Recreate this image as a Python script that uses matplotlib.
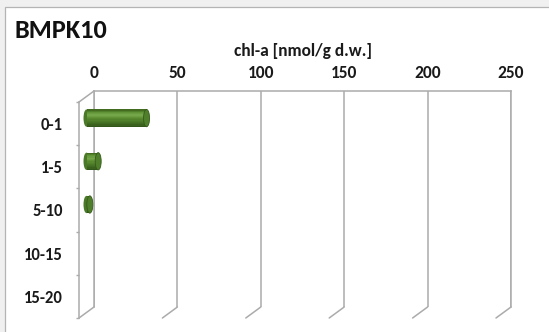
"""
Horizontal 3-D style cylinder bar chart of chl-a by depth layer (BMPK10).
"""

import numpy as np
import matplotlib
matplotlib.use("Agg")
import matplotlib.pyplot as plt
from matplotlib.patches import Ellipse, Rectangle, ConnectionPatch
from matplotlib.transforms import ScaledTranslation
from matplotlib.colors import to_rgb

# Data
layers = ["0-1", "1-5", "5-10", "10-15", "15-20"]
chla = [36, 7, 2, 0, 0]
x_ticks = [0, 50, 100, 150, 200, 250]

plt.rcParams["font.family"] = ["Carlito", "Lato", "DejaVu Sans"]
plt.rcParams["font.weight"] = "bold"
plt.rcParams["axes.labelweight"] = "bold"

W, H = 549, 332
fig = plt.figure(figsize=(W / 100, H / 100), dpi=100, facecolor="#f0f0f0")

# white chart area with thin border
fig.patches.append(Rectangle((5 / W, -0.1), 1.2, 1 - 7 / H + 0.1,
                             transform=fig.transFigure, facecolor="white",
                             edgecolor="#b4b4b4", lw=0.9, zorder=-5))

grid_col = "#ababab"

# back wall (value axis lives here)
ax = fig.add_axes([94 / W, 1 - 307 / H, 417 / W, 216 / H])
ax.set_facecolor("none")
ax.set_xlim(0, 250)
ax.set_ylim(len(layers) - 0.5, -0.5)
ax.xaxis.tick_top()
ax.xaxis.set_label_position("top")
ax.set_xticks(x_ticks)
ax.set_yticks([])
ax.tick_params(axis="x", length=0, pad=7.5, labelsize=12.5, colors="#1a1a1a")
ax.grid(axis="x", color=grid_col, lw=1.1)
ax.set_axisbelow(True)
for s in ["left", "right", "top"]:
    ax.spines[s].set_color(grid_col)
    ax.spines[s].set_linewidth(1.1)
ax.spines["bottom"].set_visible(False)
ax.set_xlabel("chl-a [nmol/g d.w.]", fontsize=12.5, labelpad=6,
              fontweight="bold", color="#1a1a1a")

# front plane (category axis)
front = fig.add_axes([79 / W, 1 - 318 / H, 417 / W, 216 / H])
front.set_facecolor("none")
front.set_xlim(0, 250)
front.set_ylim(len(layers) - 0.5, -0.5)
front.set_xticks([])
front.set_yticks(range(len(layers)))
front.set_yticklabels(layers)
front.set_yticks(np.arange(-0.5, len(layers)), minor=True)
front.tick_params(axis="y", which="major", length=0, pad=11.5,
                  labelsize=12, colors="#1a1a1a")
front.tick_params(axis="y", which="minor", length=2.5, width=1,
                  color=grid_col)
for s in ["right", "top", "bottom"]:
    front.spines[s].set_visible(False)
front.spines["left"].set_color(grid_col)
front.spines["left"].set_linewidth(1.1)

# depth edges: floor lines under each gridline + top-left edge
for t in x_ticks:
    fig.add_artist(ConnectionPatch((t, len(layers) - 0.5), (t, len(layers) - 0.5),
                                   coordsA=ax.transData, coordsB=front.transData,
                                   color=grid_col, lw=1.1))
fig.add_artist(ConnectionPatch((0, -0.5), (0, -0.5),
                               coordsA=ax.transData, coordsB=front.transData,
                               color=grid_col, lw=1.1))

# cylinders sit half way between back wall and front plane
mid = ax.transData + ScaledTranslation(-7.5 / 100, -5.5 / 100, fig.dpi_scale_trans)
bar_h = 0.4
cap_w = 3.6
stops = [to_rgb(c) for c in ["#3b621c", "#5f9234", "#75a84a", "#5b8d31",
                             "#4b7a27", "#3f6a20", "#30521a"]]
n_strip = 14


def shade(f):
    p = f * (len(stops) - 1)
    i = min(int(p), len(stops) - 2)
    r = p - i
    return tuple((1 - r) * a + r * b for a, b in zip(stops[i], stops[i + 1]))


for i, v in enumerate(chla):
    if v <= 0:
        continue
    ax.add_patch(Ellipse((0, i), cap_w, bar_h, transform=mid,
                         facecolor="#4a7a27", edgecolor="none", zorder=3,
                         clip_on=False))
    for k in range(n_strip):
        y0 = i - bar_h / 2 + k * bar_h / n_strip
        ax.barh(y0, v, height=bar_h / n_strip, align="edge",
                color=shade((k + 0.5) / n_strip), transform=mid, zorder=4,
                linewidth=0, clip_on=False)
    ax.add_patch(Ellipse((v, i), cap_w, bar_h, transform=mid,
                         facecolor="#4f7f2a", edgecolor="#355a1a", lw=0.6,
                         zorder=5, clip_on=False))

fig.text(15 / W, 1 - 38.5 / H, "BMPK10", fontsize=19, fontweight="bold",
         va="baseline", ha="left", color="#111111")

fig.savefig("out.png", dpi=100, facecolor=fig.get_facecolor())
